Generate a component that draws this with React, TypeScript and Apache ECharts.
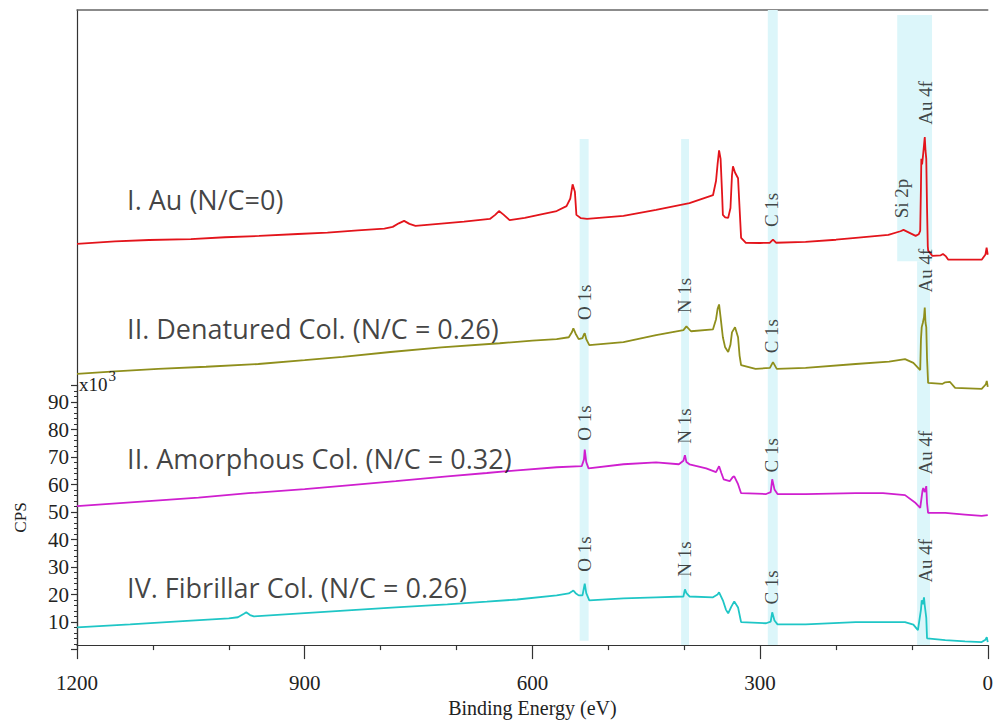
import React, { useEffect, useRef } from 'react';
import * as echarts from 'echarts';

// Binding energy (eV), CPS x10^3 (spectra vertically offset as in the figure)
const auSpectrum: [number, number][] = [
  [1200, 146.9], [1150, 147.8], [1105, 148.3], [1050, 148.6], [1005, 149.3], [960, 149.8], [909, 150.5],
  [870, 151.0], [830, 151.8], [795, 152.5], [784, 153.1], [776, 154.4], [769, 155.3], [762, 154.2],
  [754, 153.5], [720, 154.3], [690, 155.0], [656, 156.0], [649, 157.5], [644, 158.9], [638, 157.6],
  [630, 155.6], [610, 156.4], [590, 157.6], [568, 158.9], [555, 160.7], [550, 163.5], [547, 168.7],
  [544, 166], [542, 157.5], [536, 156.3], [528, 156.0], [480, 157.1], [437, 159.3], [393, 161.8],
  [362, 164.7], [358, 170], [356, 176], [354, 181.1], [352, 178], [350, 165], [349, 157.5], [346, 156.6],
  [342, 156.4], [339, 160], [337, 172], [335.7, 175.3], [333, 173], [329, 170.9], [327, 160], [325, 149.1],
  [319, 147.3], [300, 147.2], [287, 147.3], [283, 148.4], [279, 147.3], [240, 147.6], [200, 148.4],
  [174, 149.1], [131, 150.2], [115, 151.5], [111, 152.0], [105, 151.2], [95, 149.8], [91, 150.4],
  [89, 151.6], [88, 168], [87.5, 178], [86.5, 176], [85, 180], [84, 183], [83, 186], [82, 181], [81, 178],
  [80, 160], [79, 146], [78.5, 144.4], [73, 142.5], [62, 142.7], [59, 143.2], [55, 142.3], [52, 141.1],
  [30, 141.1], [8, 141.1], [3, 143], [1.5, 145.5], [0, 142.9],
];

const denaturedSpectrum: [number, number][] = [
  [1200, 99.3], [1150, 100.2], [1093, 101.1], [1030, 101.9], [961, 102.9], [900, 104.3], [850, 105.5],
  [787, 107.3], [720, 109.0], [643, 110.5], [600, 111.5], [568, 112.0], [552, 112.7], [548, 114.5],
  [546, 116.0], [543, 114], [539, 112.0], [534, 112.4], [532, 113.8], [531, 114.2], [529, 112], [525, 109.8],
  [480, 110.9], [437, 113.5], [401, 115.3], [397, 116.7], [391, 114.9], [362, 115.6], [358, 119.3],
  [356, 123], [354, 124.7], [352, 120], [349, 112.7], [346, 109], [342, 107.3], [339, 110], [337, 114.5],
  [333, 116.4], [329, 112.7], [327, 106], [325, 102.5], [306, 101.1], [287, 101.5], [283, 103.6],
  [278, 101.1], [240, 101.5], [174, 102.9], [130, 103.8], [109, 104.7], [98, 103.3], [89, 100.7],
  [88, 112], [87, 116.4], [85.5, 118], [84, 120.0], [83, 123.6], [82, 118], [81, 116.4], [80, 105],
  [78.6, 96.0], [60, 95.6], [56, 96.2], [50, 96.4], [43, 94.2], [8, 93.8], [2.5, 95.5], [1.3, 96.7], [0, 94.5],
];

const amorphousSpectrum: [number, number][] = [
  [1200, 50.9], [1106, 52.7], [1040, 54.0], [974, 55.6], [900, 57.1], [843, 58.5], [780, 60.0], [712, 61.8],
  [660, 63.0], [620, 64.0], [568, 65.1], [535, 65.5], [532, 68], [531, 71.6], [529, 67], [526, 64.7],
  [480, 66.2], [437, 66.9], [407, 66.2], [401, 67.5], [399, 69.5], [397, 67], [393, 66.2], [371, 64.7],
  [358, 63.3], [354, 65.5], [351, 63], [348, 60.7], [340, 60.0], [336, 61.5], [334, 61.8], [329, 58.9],
  [325, 55.6], [292, 55.3], [286, 56], [284, 60.7], [281, 57], [277, 55.3], [240, 55.3], [174, 55.6],
  [138, 55.6], [109, 54.9], [95, 52], [89, 50.2], [86, 56.5], [85, 57.5], [83, 56], [81, 58.2], [80, 52],
  [78.6, 48.4], [56, 48.4], [30, 47.8], [8, 47.3], [0, 47.6],
];

const fibrillarSpectrum: [number, number][] = [
  [1200, 6.5], [1130, 7.6], [1066, 8.7], [1000, 9.8], [988, 10.2], [980, 11.5], [977, 12.0], [972, 11],
  [967, 10.5], [900, 11.7], [843, 12.7], [780, 13.8], [712, 14.9], [660, 15.9], [620, 16.7], [568, 18.2],
  [552, 18.9], [548, 19.6], [546, 20.0], [543, 19], [539, 18.2], [534, 18.2], [532, 21], [531, 22.5],
  [529, 19], [525, 16.4], [480, 17.1], [437, 17.5], [401, 17.8], [399, 20.4], [397, 19], [393, 17.8],
  [362, 17.5], [356, 18.5], [354, 19.3], [349, 16.4], [345, 13], [342, 11.6], [338, 14], [334, 16.0],
  [329, 13.8], [325, 8.4], [292, 8.0], [286, 8.6], [284, 12.0], [281, 9], [277, 7.6], [240, 7.6],
  [174, 8.4], [109, 8.4], [98, 7.5], [92, 5.5], [88, 13], [87, 16.4], [85.5, 15], [84, 17.5], [83, 14.5],
  [81, 10], [80, 2.5], [56, 1.8], [30, 1.4], [8, 1.1], [3, 2], [1.3, 2.9], [0, 1.1],
];

const sampleNames = [
  'I. Au (N/C=0)',
  'II. Denatured Col. (N/C = 0.26)',
  'II. Amorphous Col. (N/C = 0.32)',
  'IV. Fibrillar Col. (N/C = 0.26)',
];
const sampleNameAnchors: [number, number][] = [[1134, 163.3], [1134, 116], [1134, 68.4], [1134, 21.1]];

// [label, binding energy, level]
const peakLabels: [string, number, number][] = [
  ['C 1s', 284.6, 159.3], ['Si 2p', 114.1, 163.5], ['Au 4f', 82.6, 198.5],
  ['O 1s', 531, 125.5], ['N 1s', 400, 128], ['C 1s', 284.6, 113.1], ['Au 4f', 82.6, 137.1],
  ['O 1s', 531, 81.3], ['N 1s', 400, 80.2], ['C 1s', 284.6, 69.5], ['Au 4f', 82.6, 70.5],
  ['O 1s', 531, 33.3], ['N 1s', 400, 31.5], ['C 1s', 284.6, 21.1], ['Au 4f', 82.6, 30.9],
];

// [energy high, energy low, level bottom, level top]
const bands: [number, number, number, number][] = [
  [537.7, 525.9, 1.6, 185.3],
  [404.0, 393.6, 0, 185.3],
  [289.8, 276.7, 0, 232.5],
  [119.3, 73.4, 140.5, 230.7],
  [93.1, 76.1, 0, 140.5],
];

const seriesColors = ['#e3141b', '#8f8f1c', '#cf1fcf', '#1fc6c6'];

export default function App() {
  const ref = useRef<HTMLDivElement>(null);
  useEffect(() => {
    if (!ref.current) return;
    const chart = echarts.init(ref.current, null, { renderer: 'svg' });
    const spectra = [auSpectrum, denaturedSpectrum, amorphousSpectrum, fibrillarSpectrum];
    const serif = 'Liberation Serif';
    chart.setOption({
      animation: false,
      backgroundColor: '#ffffff',
      grid: [
        { left: 77, right: 3, top: 10, bottom: 73.5 },
        { left: 77, right: 3, top: 385.5, bottom: 73.5 },
      ],
      xAxis: [
        {
          type: 'value', gridIndex: 0, min: 0, max: 1200, inverse: true, interval: 300,
          axisLine: { show: true, onZero: false, lineStyle: { color: '#333', width: 1.2 } },
          axisTick: { show: true, length: 14, lineStyle: { color: '#333', width: 1.2 } },
          minorTick: { show: true, splitNumber: 3, length: 5, lineStyle: { color: '#333', width: 1.2 } },
          axisLabel: {
            fontFamily: serif, fontSize: 21, color: '#222', margin: 27,
            formatter: (v: number) => String(v),
          },
          splitLine: { show: false },
          name: 'Binding Energy (eV)', nameLocation: 'middle', nameGap: 50,
          nameTextStyle: { fontFamily: serif, fontSize: 20, color: '#222' },
        },
        {
          type: 'value', gridIndex: 0, min: 0, max: 1200, inverse: true, position: 'top',
          axisLine: { show: true, onZero: false, lineStyle: { color: '#666', width: 1.5 } },
          axisTick: { show: false }, axisLabel: { show: false }, splitLine: { show: false },
        },
        { type: 'value', gridIndex: 1, min: 0, max: 1200, inverse: true, show: false },
      ],
      yAxis: [
        {
          type: 'value', gridIndex: 0, min: 0, max: 232.5, position: 'left',
          axisLine: { show: true, onZero: false, lineStyle: { color: '#333', width: 1.2 } },
          axisTick: { show: false }, axisLabel: { show: false }, splitLine: { show: false },
        },
        {
          type: 'value', gridIndex: 1, min: 0, max: 96, interval: 10, position: 'left',
          axisLine: { show: true, onZero: false, lineStyle: { color: '#333', width: 1.2 } },
          axisTick: { show: true, length: 6, lineStyle: { color: '#333', width: 1.2 } },
          minorTick: { show: true, splitNumber: 5, length: 3, lineStyle: { color: '#333', width: 1 } },
          axisLabel: {
            fontFamily: serif, fontSize: 21, color: '#222', margin: 8,
            formatter: (v: number) => (v >= 10 && v % 10 === 0 ? String(v) : ''),
          },
          splitLine: { show: false },
          name: 'CPS', nameLocation: 'middle', nameGap: 48,
          nameTextStyle: { fontFamily: serif, fontSize: 17, color: '#222' },
        },
      ],
      graphic: [
        {
          type: 'text', left: 79, top: 368, z: 10,
          style: {
            text: '{a|x10}{b|3}',
            rich: {
              a: { fontFamily: serif, fontSize: 19, fill: '#222', verticalAlign: 'bottom' },
              b: { fontFamily: serif, fontSize: 15, fill: '#222', verticalAlign: 'top', padding: [0, 0, 11, 1] },
            },
          },
        },
      ],
      series: [
        {
          type: 'custom', xAxisIndex: 0, yAxisIndex: 0, silent: true, z: 1,
          data: bands,
          encode: { x: [0, 1], y: [2, 3] },
          renderItem: (_p: any, api: any) => {
            const p1 = api.coord([api.value(0), api.value(3)]);
            const p2 = api.coord([api.value(1), api.value(2)]);
            return {
              type: 'rect',
              shape: {
                x: Math.min(p1[0], p2[0]), y: Math.min(p1[1], p2[1]),
                width: Math.abs(p2[0] - p1[0]), height: Math.abs(p2[1] - p1[1]),
              },
              style: { fill: '#dcf6fa' },
            };
          },
        },
        ...spectra.map((d, i) => ({
          type: 'line', xAxisIndex: 0, yAxisIndex: 0, z: 3,
          data: d, showSymbol: false, symbol: 'none',
          lineStyle: { color: seriesColors[i], width: 1.8 },
        })),
        {
          type: 'scatter', xAxisIndex: 0, yAxisIndex: 0, z: 4, symbolSize: 0, silent: true,
          data: peakLabels.map((p) => ({ name: p[0], value: [p[1], p[2]] })),
          label: {
            show: true, position: 'inside', rotate: 90, formatter: '{b}',
            fontFamily: serif, fontSize: 19, color: '#161616',
          },
        },
        {
          type: 'scatter', xAxisIndex: 0, yAxisIndex: 0, z: 4, symbolSize: 0, silent: true,
          data: sampleNames.map((n, i) => ({ name: n, value: sampleNameAnchors[i] })),
          label: {
            show: true, position: 'right', distance: 0, formatter: '{b}',
            fontFamily: 'Open Sans', fontSize: 27, color: '#111',
          },
        },
      ],
    });
    return () => chart.dispose();
  }, []);
  return (
    <div
      ref={ref}
      style={{ position: 'fixed', left: 0, top: 0, width: 996, height: 723, background: '#fff' }}
    />
  );
}
